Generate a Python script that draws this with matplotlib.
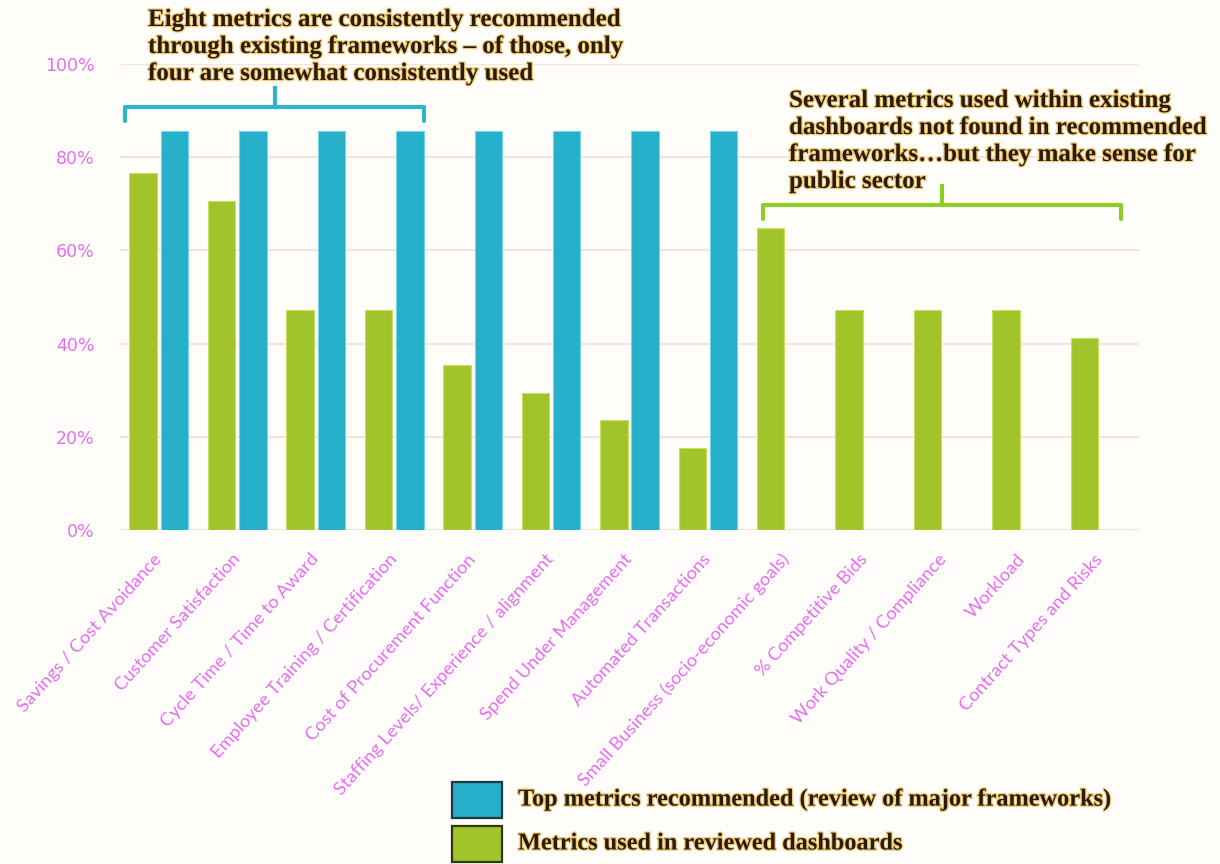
import numpy as np
import matplotlib
matplotlib.use("Agg")
import matplotlib.pyplot as plt
import matplotlib.patheffects as pe
from matplotlib.patches import Rectangle

# data (share of sources)
categories = [
    "Savings / Cost Avoidance", "Customer Satisfaction", "Cycle Time / Time to Award",
    "Employee Training / Certification", "Cost of Procurement Function",
    "Staffing Levels/ Experience / alignment", "Spend Under Management",
    "Automated Transactions", "Small Business (socio-economic goals)",
    "% Competitive Bids", "Work Quality / Compliance", "Workload",
    "Contract Types and Risks",
]
used_in_dashboards = [0.765, 0.706, 0.471, 0.471, 0.353, 0.294, 0.235, 0.176,
                      0.647, 0.471, 0.471, 0.471, 0.412]
recommended = [0.857, 0.857, 0.857, 0.857, 0.857, 0.857, 0.857, 0.857,
               0, 0, 0, 0, 0]
yticks = [0, 0.2, 0.4, 0.6, 0.8, 1.0]
ytick_labels = ["0%", "20%", "40%", "60%", "80%", "100%"]
legend_labels = ["Top metrics recommended (review of major frameworks)",
                 "Metrics used in reviewed dashboards"]

GREEN = "#a2c42b"
BLUE = "#26afc9"
PINK = "#e46ef0"
TEXT = "#2a1c08"
BG = "#fffdf9"
W, H = 1220, 864
glow = [pe.withStroke(linewidth=1.8, foreground="#f2cc7a")]

fig = plt.figure(figsize=(W / 100, H / 100), dpi=100, facecolor=BG)
ax = fig.add_axes([0.098, 0.3866, 0.836, 0.5394], facecolor=BG)

x = np.arange(len(categories))
w = 0.35
ax.bar(x - 0.2, used_in_dashboards, w, color=GREEN, edgecolor="#c8e060", linewidth=0.8, zorder=3)
ax.bar(x + 0.2, recommended, w, color=BLUE, edgecolor="#70d8ea", linewidth=0.8, zorder=3)

ax.set_xlim(-0.5, len(categories) - 0.5)
ax.set_ylim(0, 1)
ax.set_yticks(yticks)
ax.set_yticklabels(ytick_labels, color=PINK, fontsize=12.5, family="DejaVu Sans")
ax.yaxis.grid(True, color="#f6dfd2", linewidth=1.2, zorder=0)
ax.tick_params(axis="y", length=0, pad=18)
ax.tick_params(axis="x", length=0, pad=19)
for s in ax.spines.values():
    s.set_visible(False)

ax.set_xticks(x)
ax.set_xticklabels(categories, rotation=48, ha="right", va="center", rotation_mode="anchor",
                   color=PINK, fontsize=13.2, family="Lato")


# brackets, given in figure pixels from the top-left
def bracket(x0, x1, y, xm, ytop, color):
    fig.add_artist(plt.Line2D([x0 / W, x0 / W, x1 / W, x1 / W],
                              [1 - (y + 14) / H, 1 - y / H, 1 - y / H, 1 - (y + 14) / H],
                              color=color, linewidth=3, solid_joinstyle="round",
                              solid_capstyle="round"))
    fig.add_artist(plt.Line2D([xm / W, xm / W], [1 - y / H, 1 - ytop / H],
                              color=color, linewidth=3))


bracket(125, 424, 107, 275, 88, "#2fb4cc")
bracket(763, 1121, 205, 942, 186, "#8fcc2a")

note_style = dict(ha="left", va="top", fontsize=18, fontweight="bold", color=TEXT,
                  family="Liberation Serif", linespacing=1.22, path_effects=glow)
fig.text(148 / W, 1 - 8 / H,
         "Eight metrics are consistently recommended\nthrough existing frameworks \u2013 of those, only\nfour are somewhat consistently used",
         **note_style)
fig.text(789 / W, 1 - 89 / H,
         "Several metrics used within existing\ndashboards not found in recommended\nframeworks\u2026but they make sense for\npublic sector",
         **note_style)

# legend drawn by hand so the swatches sit where the reference has them
for (top, color, edge), label in zip([(782, BLUE, "#1b3a40"), (826, GREEN, "#2c3a10")],
                                     legend_labels):
    fig.add_artist(Rectangle((452 / W, 1 - (top + 36) / H), 50 / W, 36 / H,
                             facecolor=color, edgecolor=edge, linewidth=1.6,
                             transform=fig.transFigure))
    fig.text(518 / W, 1 - (top + 18) / H, label, ha="left", va="center",
             fontsize=17.5, fontweight="bold", color=TEXT, family="Liberation Serif",
             path_effects=glow)

fig.savefig("out.png", dpi=100, facecolor=BG)
